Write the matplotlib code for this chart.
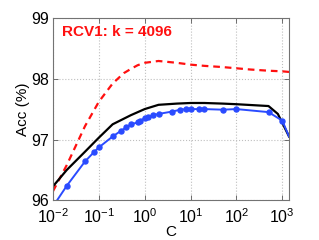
import numpy as np
import matplotlib as mpl
mpl.use("Agg")
import matplotlib.pyplot as plt
from matplotlib.ticker import LogLocator, NullFormatter

plt.rcParams["font.family"] = ["Liberation Sans", "DejaVu Sans"]
plt.rcParams["mathtext.fontset"] = "custom"
plt.rcParams["mathtext.rm"] = "Liberation Sans"
plt.rcParams["mathtext.it"] = "Liberation Sans:italic"

# red dashed curve
c_red = [0.01, 0.02, 0.05, 0.1, 0.2, 0.35, 0.5, 0.7, 1, 2, 5, 10, 20, 50, 100, 200,
         500, 1000, 1400]
acc_red = [96.15, 96.58, 97.22, 97.62, 97.92, 98.09, 98.16, 98.22, 98.26, 98.29,
           98.26, 98.23, 98.21, 98.19, 98.17, 98.15, 98.13, 98.12, 98.11]

# black solid curve
c_black = [0.01, 0.02, 0.05, 0.1, 0.2, 0.5, 1, 2, 5, 10, 20, 50, 100, 500, 800, 1400]
acc_black = [96.23, 96.50, 96.80, 97.03, 97.25, 97.40, 97.50, 97.57, 97.59, 97.60,
             97.60, 97.59, 97.58, 97.55, 97.42, 97.05]

# blue curve with markers
c_blue = [0.01, 0.02, 0.05, 0.08, 0.1, 0.2, 0.3, 0.4, 0.5, 0.7, 0.8, 1, 1.2, 1.5, 2,
          4, 6, 8, 10, 15, 20, 50, 100, 500, 1000, 1400]
acc_blue = [95.90, 96.24, 96.64, 96.80, 96.87, 97.05, 97.14, 97.20, 97.25, 97.28,
            97.31, 97.35, 97.37, 97.40, 97.42, 97.46, 97.49, 97.50, 97.50, 97.50,
            97.50, 97.49, 97.50, 97.45, 97.31, 97.05]

title = "RCV1: k = 4096"
yticks = [96, 97, 98, 99]
xticks = [1e-2, 1e-1, 1e0, 1e1, 1e2, 1e3]
xticklabels = ["$10^{-2}$", "$10^{-1}$", "$10^{0}$", "$10^{1}$", "$10^{2}$", "$10^{3}$"]

fig = plt.figure(figsize=(3.19, 2.40), dpi=100)
ax = fig.add_axes([0.166, 0.165, 0.74, 0.761])

ax.plot(c_red, acc_red, "--", color="#ff1010", lw=1.6, dashes=(3, 2.2))
ax.plot(c_black, acc_black, "-", color="black", lw=1.6)
ax.plot(c_blue, acc_blue, "-", color="#2a4bff", lw=1.4, marker="o", ms=3.6,
        markevery=slice(0, -1))

ax.set_xscale("log")
ax.set_xlim(0.01, 1400)
ax.set_ylim(96, 99)
ax.set_xticks(xticks)
ax.set_xticklabels(xticklabels)
ax.xaxis.set_minor_locator(LogLocator(base=10, subs=np.arange(2, 10)))
ax.xaxis.set_minor_formatter(NullFormatter())
ax.set_yticks(yticks)

ax.grid(True, which="major", ls=":", color="0.75", lw=0.8)
ax.tick_params(which="both", direction="in", top=True, right=True,
               labelsize=11.5, colors="0.35", labelcolor="black")
ax.tick_params(which="major", length=3.5, width=0.6)
ax.tick_params(axis="x", which="major", pad=5)
ax.tick_params(axis="y", which="major", pad=3)
ax.tick_params(which="minor", length=1.8, width=0.5)
for s in ax.spines.values():
    s.set_color("0.45")
    s.set_linewidth(0.8)

ax.set_xlabel("C", fontsize=11, labelpad=-1)
ax.set_ylabel("Acc (%)", fontsize=11, labelpad=1)
ax.text(0.04, 0.92, title, transform=ax.transAxes, color="#ff1010",
        fontsize=11, fontweight="bold", va="center", ha="left")

fig.savefig("out.png", dpi=100)
